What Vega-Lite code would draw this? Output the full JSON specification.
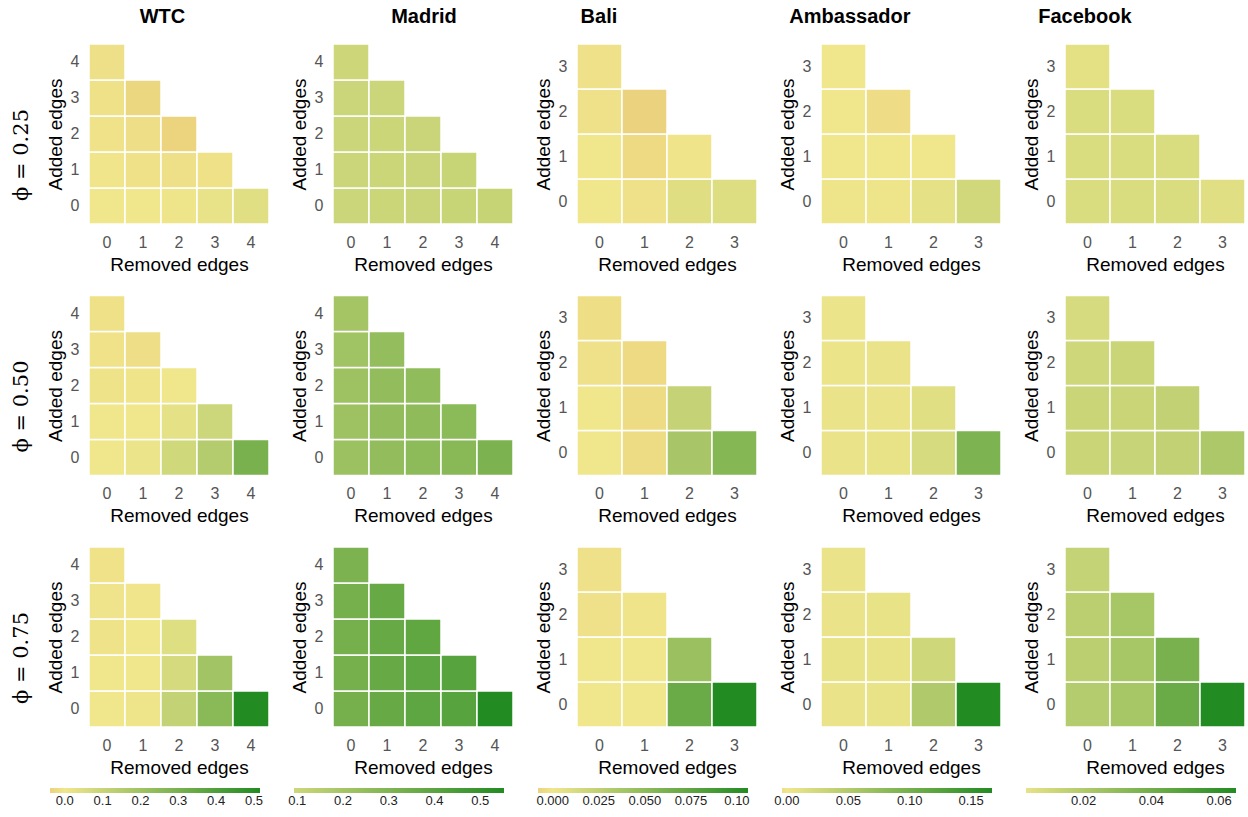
{
"$schema": "https://vega.github.io/schema/vega-lite/v6.json",
"padding": {"left": 11, "top": 7, "right": 1, "bottom": 1},
"config": {
  "view": {"stroke": null},
  "axis": {"ticks": false, "domain": false, "grid": false, "labelAngle": 0, "labelFontSize": 16, "labelColor": "#555555", "labelFont": "Liberation Sans", "titleFont": "Liberation Sans", "titleFontSize": 19, "titleFontWeight": "normal", "titleColor": "#000000", "labelPadding": 10, "titlePadding": 5},
  "legend": {"labelFont": "Liberation Sans", "labelFontSize": 13, "labelColor": "#222222", "orient": "none", "direction": "horizontal", "legendX": -39, "legendY": 744, "gradientLength": 210, "gradientThickness": 5, "gradientStrokeWidth": 0, "padding": 0},
  "title": {"fontSize": 20, "fontWeight": "bold", "font": "Liberation Sans", "color": "#000000", "offset": 16, "anchor": "middle"}
},
"datasets": {
"d": [
{"net":"WTC","phi":0.25,"r":0,"a":0,"v":0.0},{"net":"WTC","phi":0.25,"r":1,"a":0,"v":0.0},{"net":"WTC","phi":0.25,"r":2,"a":0,"v":0.006},{"net":"WTC","phi":0.25,"r":3,"a":0,"v":0.02},{"net":"WTC","phi":0.25,"r":4,"a":0,"v":0.04},
{"net":"WTC","phi":0.25,"r":0,"a":1,"v":-0.002},{"net":"WTC","phi":0.25,"r":1,"a":1,"v":-0.01},{"net":"WTC","phi":0.25,"r":2,"a":1,"v":-0.012},{"net":"WTC","phi":0.25,"r":3,"a":1,"v":-0.01},
{"net":"WTC","phi":0.25,"r":0,"a":2,"v":-0.008},{"net":"WTC","phi":0.25,"r":1,"a":2,"v":-0.015},{"net":"WTC","phi":0.25,"r":2,"a":2,"v":-0.035},
{"net":"WTC","phi":0.25,"r":0,"a":3,"v":-0.01},{"net":"WTC","phi":0.25,"r":1,"a":3,"v":-0.03},
{"net":"WTC","phi":0.25,"r":0,"a":4,"v":-0.012},
{"net":"WTC","phi":0.5,"r":0,"a":0,"v":0.0},{"net":"WTC","phi":0.5,"r":1,"a":0,"v":0.012},{"net":"WTC","phi":0.5,"r":2,"a":0,"v":0.08},{"net":"WTC","phi":0.5,"r":3,"a":0,"v":0.15},{"net":"WTC","phi":0.5,"r":4,"a":0,"v":0.3},
{"net":"WTC","phi":0.5,"r":0,"a":1,"v":0.0},{"net":"WTC","phi":0.5,"r":1,"a":1,"v":0.0},{"net":"WTC","phi":0.5,"r":2,"a":1,"v":0.03},{"net":"WTC","phi":0.5,"r":3,"a":1,"v":0.09},
{"net":"WTC","phi":0.5,"r":0,"a":2,"v":-0.005},{"net":"WTC","phi":0.5,"r":1,"a":2,"v":-0.003},{"net":"WTC","phi":0.5,"r":2,"a":2,"v":0.0},
{"net":"WTC","phi":0.5,"r":0,"a":3,"v":-0.008},{"net":"WTC","phi":0.5,"r":1,"a":3,"v":-0.015},
{"net":"WTC","phi":0.5,"r":0,"a":4,"v":-0.01},
{"net":"WTC","phi":0.75,"r":0,"a":0,"v":0.0},{"net":"WTC","phi":0.75,"r":1,"a":0,"v":0.005},{"net":"WTC","phi":0.75,"r":2,"a":0,"v":0.113},{"net":"WTC","phi":0.75,"r":3,"a":0,"v":0.256},{"net":"WTC","phi":0.75,"r":4,"a":0,"v":0.516},
{"net":"WTC","phi":0.75,"r":0,"a":1,"v":0.0},{"net":"WTC","phi":0.75,"r":1,"a":1,"v":0.0},{"net":"WTC","phi":0.75,"r":2,"a":1,"v":0.067},{"net":"WTC","phi":0.75,"r":3,"a":1,"v":0.193},
{"net":"WTC","phi":0.75,"r":0,"a":2,"v":-0.006},{"net":"WTC","phi":0.75,"r":1,"a":2,"v":0.0},{"net":"WTC","phi":0.75,"r":2,"a":2,"v":0.045},
{"net":"WTC","phi":0.75,"r":0,"a":3,"v":-0.004},{"net":"WTC","phi":0.75,"r":1,"a":3,"v":-0.002},
{"net":"WTC","phi":0.75,"r":0,"a":4,"v":-0.008},

{"net":"Madrid","phi":0.25,"r":0,"a":0,"v":0.1},{"net":"Madrid","phi":0.25,"r":1,"a":0,"v":0.102},{"net":"Madrid","phi":0.25,"r":2,"a":0,"v":0.105},{"net":"Madrid","phi":0.25,"r":3,"a":0,"v":0.108},{"net":"Madrid","phi":0.25,"r":4,"a":0,"v":0.112},
{"net":"Madrid","phi":0.25,"r":0,"a":1,"v":0.1},{"net":"Madrid","phi":0.25,"r":1,"a":1,"v":0.102},{"net":"Madrid","phi":0.25,"r":2,"a":1,"v":0.105},{"net":"Madrid","phi":0.25,"r":3,"a":1,"v":0.108},
{"net":"Madrid","phi":0.25,"r":0,"a":2,"v":0.1},{"net":"Madrid","phi":0.25,"r":1,"a":2,"v":0.102},{"net":"Madrid","phi":0.25,"r":2,"a":2,"v":0.105},
{"net":"Madrid","phi":0.25,"r":0,"a":3,"v":0.1},{"net":"Madrid","phi":0.25,"r":1,"a":3,"v":0.1},
{"net":"Madrid","phi":0.25,"r":0,"a":4,"v":0.093},
{"net":"Madrid","phi":0.5,"r":0,"a":0,"v":0.225},{"net":"Madrid","phi":0.5,"r":1,"a":0,"v":0.25},{"net":"Madrid","phi":0.5,"r":2,"a":0,"v":0.265},{"net":"Madrid","phi":0.5,"r":3,"a":0,"v":0.275},{"net":"Madrid","phi":0.5,"r":4,"a":0,"v":0.31},
{"net":"Madrid","phi":0.5,"r":0,"a":1,"v":0.22},{"net":"Madrid","phi":0.5,"r":1,"a":1,"v":0.25},{"net":"Madrid","phi":0.5,"r":2,"a":1,"v":0.26},{"net":"Madrid","phi":0.5,"r":3,"a":1,"v":0.27},
{"net":"Madrid","phi":0.5,"r":0,"a":2,"v":0.22},{"net":"Madrid","phi":0.5,"r":1,"a":2,"v":0.25},{"net":"Madrid","phi":0.5,"r":2,"a":2,"v":0.255},
{"net":"Madrid","phi":0.5,"r":0,"a":3,"v":0.215},{"net":"Madrid","phi":0.5,"r":1,"a":3,"v":0.245},
{"net":"Madrid","phi":0.5,"r":0,"a":4,"v":0.2},
{"net":"Madrid","phi":0.75,"r":0,"a":0,"v":0.33},{"net":"Madrid","phi":0.75,"r":1,"a":0,"v":0.37},{"net":"Madrid","phi":0.75,"r":2,"a":0,"v":0.39},{"net":"Madrid","phi":0.75,"r":3,"a":0,"v":0.41},{"net":"Madrid","phi":0.75,"r":4,"a":0,"v":0.552},
{"net":"Madrid","phi":0.75,"r":0,"a":1,"v":0.33},{"net":"Madrid","phi":0.75,"r":1,"a":1,"v":0.37},{"net":"Madrid","phi":0.75,"r":2,"a":1,"v":0.39},{"net":"Madrid","phi":0.75,"r":3,"a":1,"v":0.41},
{"net":"Madrid","phi":0.75,"r":0,"a":2,"v":0.33},{"net":"Madrid","phi":0.75,"r":1,"a":2,"v":0.37},{"net":"Madrid","phi":0.75,"r":2,"a":2,"v":0.385},
{"net":"Madrid","phi":0.75,"r":0,"a":3,"v":0.33},{"net":"Madrid","phi":0.75,"r":1,"a":3,"v":0.37},
{"net":"Madrid","phi":0.75,"r":0,"a":4,"v":0.31},

{"net":"Bali","phi":0.25,"r":0,"a":0,"v":0.0},{"net":"Bali","phi":0.25,"r":1,"a":0,"v":-0.002},{"net":"Bali","phi":0.25,"r":2,"a":0,"v":0.009},{"net":"Bali","phi":0.25,"r":3,"a":0,"v":0.01},
{"net":"Bali","phi":0.25,"r":0,"a":1,"v":0.0},{"net":"Bali","phi":0.25,"r":1,"a":1,"v":-0.005},{"net":"Bali","phi":0.25,"r":2,"a":1,"v":-0.001},
{"net":"Bali","phi":0.25,"r":0,"a":2,"v":-0.002},{"net":"Bali","phi":0.25,"r":1,"a":2,"v":-0.008},
{"net":"Bali","phi":0.25,"r":0,"a":3,"v":-0.002},
{"net":"Bali","phi":0.5,"r":0,"a":0,"v":0.0},{"net":"Bali","phi":0.5,"r":1,"a":0,"v":-0.004},{"net":"Bali","phi":0.5,"r":2,"a":0,"v":0.037},{"net":"Bali","phi":0.5,"r":3,"a":0,"v":0.055},
{"net":"Bali","phi":0.5,"r":0,"a":1,"v":0.0},{"net":"Bali","phi":0.5,"r":1,"a":1,"v":-0.004},{"net":"Bali","phi":0.5,"r":2,"a":1,"v":0.022},
{"net":"Bali","phi":0.5,"r":0,"a":2,"v":-0.002},{"net":"Bali","phi":0.5,"r":1,"a":2,"v":-0.005},
{"net":"Bali","phi":0.5,"r":0,"a":3,"v":-0.003},
{"net":"Bali","phi":0.75,"r":0,"a":0,"v":0.0},{"net":"Bali","phi":0.75,"r":1,"a":0,"v":0.0},{"net":"Bali","phi":0.75,"r":2,"a":0,"v":0.069},{"net":"Bali","phi":0.75,"r":3,"a":0,"v":0.106},
{"net":"Bali","phi":0.75,"r":0,"a":1,"v":0.0},{"net":"Bali","phi":0.75,"r":1,"a":1,"v":0.0},{"net":"Bali","phi":0.75,"r":2,"a":1,"v":0.044},
{"net":"Bali","phi":0.75,"r":0,"a":2,"v":-0.002},{"net":"Bali","phi":0.75,"r":1,"a":2,"v":-0.001},
{"net":"Bali","phi":0.75,"r":0,"a":3,"v":-0.002},

{"net":"Ambassador","phi":0.25,"r":0,"a":0,"v":0.002},{"net":"Ambassador","phi":0.25,"r":1,"a":0,"v":0.002},{"net":"Ambassador","phi":0.25,"r":2,"a":0,"v":0.01},{"net":"Ambassador","phi":0.25,"r":3,"a":0,"v":0.025},
{"net":"Ambassador","phi":0.25,"r":0,"a":1,"v":0.0},{"net":"Ambassador","phi":0.25,"r":1,"a":1,"v":0.0},{"net":"Ambassador","phi":0.25,"r":2,"a":1,"v":0.0},
{"net":"Ambassador","phi":0.25,"r":0,"a":2,"v":0.0},{"net":"Ambassador","phi":0.25,"r":1,"a":2,"v":-0.004},
{"net":"Ambassador","phi":0.25,"r":0,"a":3,"v":0.0},
{"net":"Ambassador","phi":0.5,"r":0,"a":0,"v":0.005},{"net":"Ambassador","phi":0.5,"r":1,"a":0,"v":0.006},{"net":"Ambassador","phi":0.5,"r":2,"a":0,"v":0.02},{"net":"Ambassador","phi":0.5,"r":3,"a":0,"v":0.093},
{"net":"Ambassador","phi":0.5,"r":0,"a":1,"v":0.005},{"net":"Ambassador","phi":0.5,"r":1,"a":1,"v":0.005},{"net":"Ambassador","phi":0.5,"r":2,"a":1,"v":0.012},
{"net":"Ambassador","phi":0.5,"r":0,"a":2,"v":0.004},{"net":"Ambassador","phi":0.5,"r":1,"a":2,"v":0.005},
{"net":"Ambassador","phi":0.5,"r":0,"a":3,"v":0.003},
{"net":"Ambassador","phi":0.75,"r":0,"a":0,"v":0.005},{"net":"Ambassador","phi":0.75,"r":1,"a":0,"v":0.006},{"net":"Ambassador","phi":0.75,"r":2,"a":0,"v":0.052},{"net":"Ambassador","phi":0.75,"r":3,"a":0,"v":0.167},
{"net":"Ambassador","phi":0.75,"r":0,"a":1,"v":0.006},{"net":"Ambassador","phi":0.75,"r":1,"a":1,"v":0.006},{"net":"Ambassador","phi":0.75,"r":2,"a":1,"v":0.027},
{"net":"Ambassador","phi":0.75,"r":0,"a":2,"v":0.005},{"net":"Ambassador","phi":0.75,"r":1,"a":2,"v":0.006},
{"net":"Ambassador","phi":0.75,"r":0,"a":3,"v":0.005},

{"net":"Facebook","phi":0.25,"r":0,"a":0,"v":0.007},{"net":"Facebook","phi":0.25,"r":1,"a":0,"v":0.007},{"net":"Facebook","phi":0.25,"r":2,"a":0,"v":0.007},{"net":"Facebook","phi":0.25,"r":3,"a":0,"v":0.005},
{"net":"Facebook","phi":0.25,"r":0,"a":1,"v":0.007},{"net":"Facebook","phi":0.25,"r":1,"a":1,"v":0.007},{"net":"Facebook","phi":0.25,"r":2,"a":1,"v":0.007},
{"net":"Facebook","phi":0.25,"r":0,"a":2,"v":0.007},{"net":"Facebook","phi":0.25,"r":1,"a":2,"v":0.007},
{"net":"Facebook","phi":0.25,"r":0,"a":3,"v":0.004},
{"net":"Facebook","phi":0.5,"r":0,"a":0,"v":0.012},{"net":"Facebook","phi":0.5,"r":1,"a":0,"v":0.013},{"net":"Facebook","phi":0.5,"r":2,"a":0,"v":0.015},{"net":"Facebook","phi":0.5,"r":3,"a":0,"v":0.0215},
{"net":"Facebook","phi":0.5,"r":0,"a":1,"v":0.012},{"net":"Facebook","phi":0.5,"r":1,"a":1,"v":0.012},{"net":"Facebook","phi":0.5,"r":2,"a":1,"v":0.015},
{"net":"Facebook","phi":0.5,"r":0,"a":2,"v":0.011},{"net":"Facebook","phi":0.5,"r":1,"a":2,"v":0.012},
{"net":"Facebook","phi":0.5,"r":0,"a":3,"v":0.008},
{"net":"Facebook","phi":0.75,"r":0,"a":0,"v":0.019},{"net":"Facebook","phi":0.75,"r":1,"a":0,"v":0.023},{"net":"Facebook","phi":0.75,"r":2,"a":0,"v":0.042},{"net":"Facebook","phi":0.75,"r":3,"a":0,"v":0.065},
{"net":"Facebook","phi":0.75,"r":0,"a":1,"v":0.017},{"net":"Facebook","phi":0.75,"r":1,"a":1,"v":0.023},{"net":"Facebook","phi":0.75,"r":2,"a":1,"v":0.038},
{"net":"Facebook","phi":0.75,"r":0,"a":2,"v":0.017},{"net":"Facebook","phi":0.75,"r":1,"a":2,"v":0.023},
{"net":"Facebook","phi":0.75,"r":0,"a":3,"v":0.014}
]
},
"hconcat": [
{
 "title": {"text": "WTC", "dx": 22},
 "resolve": {"scale": {"color": "shared"}, "legend": {"color": "shared"}},
 "spacing": 20.5,
 "vconcat": [
  {"title": {"text": "ϕ = 0.25", "orient": "left", "font": "DejaVu Serif", "fontSize": 21, "fontWeight": "normal", "offset": 14, "dx": -21},
   "width": 180, "height": 180, "data": {"name": "d"}, "transform": [{"filter": "datum.net == 'WTC' && datum.phi == 0.25"}],
   "mark": {"type": "rect", "stroke": "white", "strokeWidth": 1.5},
   "encoding": {
    "x": {"field": "r", "type": "ordinal", "title": "Removed edges", "scale": {"domain": [0,1,2,3,4], "paddingInner": 0, "paddingOuter": 0}},
    "y": {"field": "a", "type": "ordinal", "title": "Added edges", "scale": {"domain": [4,3,2,1,0], "paddingInner": 0, "paddingOuter": 0}},
    "color": {"field": "v", "type": "quantitative", "scale": {"domain": [-0.039, 0, 0.516], "range": ["#ebd27e", "#f0e68c", "#228b22"], "interpolate": "rgb"},
      "legend": {"title": null, "values": [0, 0.1, 0.2, 0.3, 0.4, 0.5], "format": ".1f"}}
   }},
  {"title": {"text": "ϕ = 0.50", "orient": "left", "font": "DejaVu Serif", "fontSize": 21, "fontWeight": "normal", "offset": 14, "dx": -21},
   "width": 180, "height": 180, "data": {"name": "d"}, "transform": [{"filter": "datum.net == 'WTC' && datum.phi == 0.5"}],
   "mark": {"type": "rect", "stroke": "white", "strokeWidth": 1.5},
   "encoding": {
    "x": {"field": "r", "type": "ordinal", "title": "Removed edges", "scale": {"domain": [0,1,2,3,4], "paddingInner": 0, "paddingOuter": 0}},
    "y": {"field": "a", "type": "ordinal", "title": "Added edges", "scale": {"domain": [4,3,2,1,0], "paddingInner": 0, "paddingOuter": 0}},
    "color": {"field": "v", "type": "quantitative", "scale": {"domain": [-0.039, 0, 0.516], "range": ["#ebd27e", "#f0e68c", "#228b22"], "interpolate": "rgb"},
      "legend": {"title": null, "values": [0, 0.1, 0.2, 0.3, 0.4, 0.5], "format": ".1f"}}
   }},
  {"title": {"text": "ϕ = 0.75", "orient": "left", "font": "DejaVu Serif", "fontSize": 21, "fontWeight": "normal", "offset": 14, "dx": -21},
   "width": 180, "height": 180, "data": {"name": "d"}, "transform": [{"filter": "datum.net == 'WTC' && datum.phi == 0.75"}],
   "mark": {"type": "rect", "stroke": "white", "strokeWidth": 1.5},
   "encoding": {
    "x": {"field": "r", "type": "ordinal", "title": "Removed edges", "scale": {"domain": [0,1,2,3,4], "paddingInner": 0, "paddingOuter": 0}},
    "y": {"field": "a", "type": "ordinal", "title": "Added edges", "scale": {"domain": [4,3,2,1,0], "paddingInner": 0, "paddingOuter": 0}},
    "color": {"field": "v", "type": "quantitative", "scale": {"domain": [-0.039, 0, 0.516], "range": ["#ebd27e", "#f0e68c", "#228b22"], "interpolate": "rgb"},
      "legend": {"title": null, "values": [0, 0.1, 0.2, 0.3, 0.4, 0.5], "format": ".1f"}}
   }}
 ]
},
{
 "title": {"text": "Madrid", "dx": 22},
 "resolve": {"scale": {"color": "shared"}, "legend": {"color": "shared"}},
 "spacing": 20.5,
 "vconcat": [
  {"width": 180, "height": 180, "data": {"name": "d"}, "transform": [{"filter": "datum.net == 'Madrid' && datum.phi == 0.25"}],
   "mark": {"type": "rect", "stroke": "white", "strokeWidth": 1.5},
   "encoding": {
    "x": {"field": "r", "type": "ordinal", "title": "Removed edges", "scale": {"domain": [0,1,2,3,4], "paddingInner": 0, "paddingOuter": 0}},
    "y": {"field": "a", "type": "ordinal", "title": "Added edges", "scale": {"domain": [4,3,2,1,0], "paddingInner": 0, "paddingOuter": 0}},
    "color": {"field": "v", "type": "quantitative", "scale": {"domain": [0.093, 0.552], "range": ["#cdd77a", "#228b22"], "interpolate": "rgb"},
      "legend": {"title": null, "values": [0.1, 0.2, 0.3, 0.4, 0.5], "format": ".1f"}}
   }},
  {"width": 180, "height": 180, "data": {"name": "d"}, "transform": [{"filter": "datum.net == 'Madrid' && datum.phi == 0.5"}],
   "mark": {"type": "rect", "stroke": "white", "strokeWidth": 1.5},
   "encoding": {
    "x": {"field": "r", "type": "ordinal", "title": "Removed edges", "scale": {"domain": [0,1,2,3,4], "paddingInner": 0, "paddingOuter": 0}},
    "y": {"field": "a", "type": "ordinal", "title": "Added edges", "scale": {"domain": [4,3,2,1,0], "paddingInner": 0, "paddingOuter": 0}},
    "color": {"field": "v", "type": "quantitative", "scale": {"domain": [0.093, 0.552], "range": ["#cdd77a", "#228b22"], "interpolate": "rgb"},
      "legend": {"title": null, "values": [0.1, 0.2, 0.3, 0.4, 0.5], "format": ".1f"}}
   }},
  {"width": 180, "height": 180, "data": {"name": "d"}, "transform": [{"filter": "datum.net == 'Madrid' && datum.phi == 0.75"}],
   "mark": {"type": "rect", "stroke": "white", "strokeWidth": 1.5},
   "encoding": {
    "x": {"field": "r", "type": "ordinal", "title": "Removed edges", "scale": {"domain": [0,1,2,3,4], "paddingInner": 0, "paddingOuter": 0}},
    "y": {"field": "a", "type": "ordinal", "title": "Added edges", "scale": {"domain": [4,3,2,1,0], "paddingInner": 0, "paddingOuter": 0}},
    "color": {"field": "v", "type": "quantitative", "scale": {"domain": [0.093, 0.552], "range": ["#cdd77a", "#228b22"], "interpolate": "rgb"},
      "legend": {"title": null, "values": [0.1, 0.2, 0.3, 0.4, 0.5], "format": ".1f"}}
   }}
 ]
},
{
 "title": {"text": "Bali", "dx": -47},
 "resolve": {"scale": {"color": "shared"}, "legend": {"color": "shared"}},
 "spacing": 20.5,
 "vconcat": [
  {"width": 180, "height": 180, "data": {"name": "d"}, "transform": [{"filter": "datum.net == 'Bali' && datum.phi == 0.25"}],
   "mark": {"type": "rect", "stroke": "white", "strokeWidth": 1.5},
   "encoding": {
    "x": {"field": "r", "type": "ordinal", "title": "Removed edges", "scale": {"domain": [0,1,2,3], "paddingInner": 0, "paddingOuter": 0}},
    "y": {"field": "a", "type": "ordinal", "title": "Added edges", "scale": {"domain": [3,2,1,0], "paddingInner": 0, "paddingOuter": 0}},
    "color": {"field": "v", "type": "quantitative", "scale": {"domain": [-0.008, 0, 0.106], "range": ["#ebd27e", "#f0e68c", "#228b22"], "interpolate": "rgb"},
      "legend": {"title": null, "values": [0, 0.025, 0.05, 0.075, 0.1], "labelExpr": "datum.value > 0.09 ? '0.10' : format(datum.value, '.3f')"}}
   }},
  {"width": 180, "height": 180, "data": {"name": "d"}, "transform": [{"filter": "datum.net == 'Bali' && datum.phi == 0.5"}],
   "mark": {"type": "rect", "stroke": "white", "strokeWidth": 1.5},
   "encoding": {
    "x": {"field": "r", "type": "ordinal", "title": "Removed edges", "scale": {"domain": [0,1,2,3], "paddingInner": 0, "paddingOuter": 0}},
    "y": {"field": "a", "type": "ordinal", "title": "Added edges", "scale": {"domain": [3,2,1,0], "paddingInner": 0, "paddingOuter": 0}},
    "color": {"field": "v", "type": "quantitative", "scale": {"domain": [-0.008, 0, 0.106], "range": ["#ebd27e", "#f0e68c", "#228b22"], "interpolate": "rgb"},
      "legend": {"title": null, "values": [0, 0.025, 0.05, 0.075, 0.1], "labelExpr": "datum.value > 0.09 ? '0.10' : format(datum.value, '.3f')"}}
   }},
  {"width": 180, "height": 180, "data": {"name": "d"}, "transform": [{"filter": "datum.net == 'Bali' && datum.phi == 0.75"}],
   "mark": {"type": "rect", "stroke": "white", "strokeWidth": 1.5},
   "encoding": {
    "x": {"field": "r", "type": "ordinal", "title": "Removed edges", "scale": {"domain": [0,1,2,3], "paddingInner": 0, "paddingOuter": 0}},
    "y": {"field": "a", "type": "ordinal", "title": "Added edges", "scale": {"domain": [3,2,1,0], "paddingInner": 0, "paddingOuter": 0}},
    "color": {"field": "v", "type": "quantitative", "scale": {"domain": [-0.008, 0, 0.106], "range": ["#ebd27e", "#f0e68c", "#228b22"], "interpolate": "rgb"},
      "legend": {"title": null, "values": [0, 0.025, 0.05, 0.075, 0.1], "labelExpr": "datum.value > 0.09 ? '0.10' : format(datum.value, '.3f')"}}
   }}
 ]
},
{
 "title": {"text": "Ambassador", "dx": -40},
 "resolve": {"scale": {"color": "shared"}, "legend": {"color": "shared"}},
 "spacing": 20.5,
 "vconcat": [
  {"width": 180, "height": 180, "data": {"name": "d"}, "transform": [{"filter": "datum.net == 'Ambassador' && datum.phi == 0.25"}],
   "mark": {"type": "rect", "stroke": "white", "strokeWidth": 1.5},
   "encoding": {
    "x": {"field": "r", "type": "ordinal", "title": "Removed edges", "scale": {"domain": [0,1,2,3], "paddingInner": 0, "paddingOuter": 0}},
    "y": {"field": "a", "type": "ordinal", "title": "Added edges", "scale": {"domain": [3,2,1,0], "paddingInner": 0, "paddingOuter": 0}},
    "color": {"field": "v", "type": "quantitative", "scale": {"domain": [-0.004, 0, 0.167], "range": ["#eedc86", "#f0e68c", "#228b22"], "interpolate": "rgb"},
      "legend": {"title": null, "values": [0, 0.05, 0.1, 0.15], "format": ".2f"}}
   }},
  {"width": 180, "height": 180, "data": {"name": "d"}, "transform": [{"filter": "datum.net == 'Ambassador' && datum.phi == 0.5"}],
   "mark": {"type": "rect", "stroke": "white", "strokeWidth": 1.5},
   "encoding": {
    "x": {"field": "r", "type": "ordinal", "title": "Removed edges", "scale": {"domain": [0,1,2,3], "paddingInner": 0, "paddingOuter": 0}},
    "y": {"field": "a", "type": "ordinal", "title": "Added edges", "scale": {"domain": [3,2,1,0], "paddingInner": 0, "paddingOuter": 0}},
    "color": {"field": "v", "type": "quantitative", "scale": {"domain": [-0.004, 0, 0.167], "range": ["#eedc86", "#f0e68c", "#228b22"], "interpolate": "rgb"},
      "legend": {"title": null, "values": [0, 0.05, 0.1, 0.15], "format": ".2f"}}
   }},
  {"width": 180, "height": 180, "data": {"name": "d"}, "transform": [{"filter": "datum.net == 'Ambassador' && datum.phi == 0.75"}],
   "mark": {"type": "rect", "stroke": "white", "strokeWidth": 1.5},
   "encoding": {
    "x": {"field": "r", "type": "ordinal", "title": "Removed edges", "scale": {"domain": [0,1,2,3], "paddingInner": 0, "paddingOuter": 0}},
    "y": {"field": "a", "type": "ordinal", "title": "Added edges", "scale": {"domain": [3,2,1,0], "paddingInner": 0, "paddingOuter": 0}},
    "color": {"field": "v", "type": "quantitative", "scale": {"domain": [-0.004, 0, 0.167], "range": ["#eedc86", "#f0e68c", "#228b22"], "interpolate": "rgb"},
      "legend": {"title": null, "values": [0, 0.05, 0.1, 0.15], "format": ".2f"}}
   }}
 ]
},
{
 "title": {"text": "Facebook", "dx": -49},
 "resolve": {"scale": {"color": "shared"}, "legend": {"color": "shared"}},
 "spacing": 20.5,
 "vconcat": [
  {"width": 180, "height": 180, "data": {"name": "d"}, "transform": [{"filter": "datum.net == 'Facebook' && datum.phi == 0.25"}],
   "mark": {"type": "rect", "stroke": "white", "strokeWidth": 1.5},
   "encoding": {
    "x": {"field": "r", "type": "ordinal", "title": "Removed edges", "scale": {"domain": [0,1,2,3], "paddingInner": 0, "paddingOuter": 0}},
    "y": {"field": "a", "type": "ordinal", "title": "Added edges", "scale": {"domain": [3,2,1,0], "paddingInner": 0, "paddingOuter": 0}},
    "color": {"field": "v", "type": "quantitative", "scale": {"domain": [0.003, 0.065], "range": ["#e7e287", "#228b22"], "interpolate": "rgb"},
      "legend": {"title": null, "values": [0.02, 0.04, 0.06], "format": ".2f"}}
   }},
  {"width": 180, "height": 180, "data": {"name": "d"}, "transform": [{"filter": "datum.net == 'Facebook' && datum.phi == 0.5"}],
   "mark": {"type": "rect", "stroke": "white", "strokeWidth": 1.5},
   "encoding": {
    "x": {"field": "r", "type": "ordinal", "title": "Removed edges", "scale": {"domain": [0,1,2,3], "paddingInner": 0, "paddingOuter": 0}},
    "y": {"field": "a", "type": "ordinal", "title": "Added edges", "scale": {"domain": [3,2,1,0], "paddingInner": 0, "paddingOuter": 0}},
    "color": {"field": "v", "type": "quantitative", "scale": {"domain": [0.003, 0.065], "range": ["#e7e287", "#228b22"], "interpolate": "rgb"},
      "legend": {"title": null, "values": [0.02, 0.04, 0.06], "format": ".2f"}}
   }},
  {"width": 180, "height": 180, "data": {"name": "d"}, "transform": [{"filter": "datum.net == 'Facebook' && datum.phi == 0.75"}],
   "mark": {"type": "rect", "stroke": "white", "strokeWidth": 1.5},
   "encoding": {
    "x": {"field": "r", "type": "ordinal", "title": "Removed edges", "scale": {"domain": [0,1,2,3], "paddingInner": 0, "paddingOuter": 0}},
    "y": {"field": "a", "type": "ordinal", "title": "Added edges", "scale": {"domain": [3,2,1,0], "paddingInner": 0, "paddingOuter": 0}},
    "color": {"field": "v", "type": "quantitative", "scale": {"domain": [0.003, 0.065], "range": ["#e7e287", "#228b22"], "interpolate": "rgb"},
      "legend": {"title": null, "values": [0.02, 0.04, 0.06], "format": ".2f"}}
   }}
 ]
}
],
"spacing": 20,
"resolve": {"scale": {"color": "independent"}, "legend": {"color": "independent"}}
}
